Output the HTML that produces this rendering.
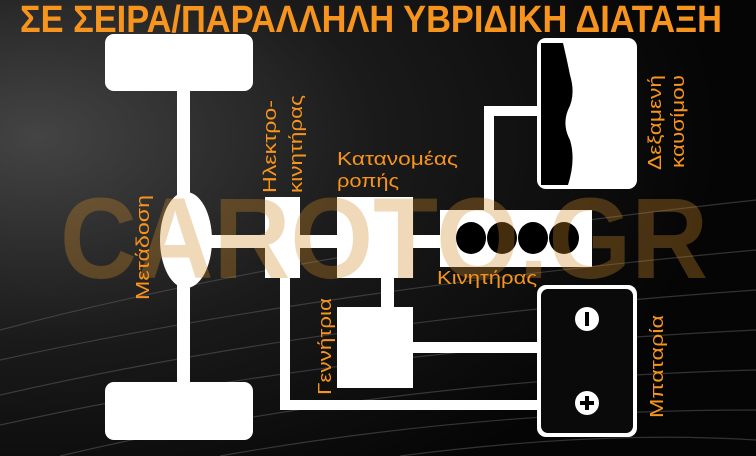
<!DOCTYPE html>
<html><head><meta charset="utf-8"><style>
html,body{margin:0;padding:0;width:756px;height:456px;overflow:hidden;background:#000}
svg{display:block}
</style></head><body>
<svg width="756" height="456" viewBox="0 0 756 456" xmlns="http://www.w3.org/2000/svg">
<defs>
<radialGradient id="bg" cx="0.05" cy="0.3" r="0.9">
<stop offset="0" stop-color="#444"/><stop offset="0.5" stop-color="#1a1a1a"/><stop offset="1" stop-color="#050505"/>
</radialGradient>
</defs>
<rect width="756" height="456" fill="url(#bg)"/>
<g stroke="#6a6a6a" stroke-width="1.2" fill="none" opacity="0.45">
<path d="M0 330 Q300 250 756 200"/><path d="M0 360 Q320 290 756 250"/><path d="M0 395 Q330 320 756 290"/>
<path d="M0 425 Q340 350 756 330"/><path d="M60 456 Q380 380 756 370"/><path d="M220 456 Q480 410 756 410"/>
<path d="M400 456 Q600 430 756 440"/>
</g>
<text x="20" y="32" font-family="Liberation Sans, sans-serif" font-weight="bold" font-size="38" fill="#f7941d" textLength="702" lengthAdjust="spacingAndGlyphs">ΣΕ ΣΕΙΡΑ/ΠΑΡΑΛΛΗΛΗ ΥΒΡΙΔΙΚΗ ΔΙΑΤΑΞΗ</text>
<g fill="#fff">
<rect x="105" y="34" width="148" height="57" rx="9"/>
<rect x="105" y="382" width="148" height="58" rx="9"/>
<rect x="177" y="88" width="13" height="298"/>
<ellipse cx="186" cy="240" rx="26" ry="48"/>
<rect x="205" y="235" width="240" height="13"/>
<rect x="265" y="197" width="35" height="81"/>
<rect x="337" y="197" width="76" height="81"/>
<rect x="440" y="210" width="152" height="57"/>
<rect x="381" y="276" width="13" height="33"/>
<rect x="337" y="307" width="76" height="81"/>
<rect x="410" y="342" width="130" height="11"/>
<rect x="280" y="276" width="10" height="134"/>
<rect x="280" y="400" width="260" height="10"/>
<rect x="484" y="106" width="10" height="106"/>
<rect x="484" y="106" width="56" height="10"/>
<rect x="537" y="38" width="100" height="151" rx="9"/>
<rect x="537" y="285" width="100" height="152" rx="9"/>
</g>
<path d="M541 43 L563 43 Q567 60 570 75 Q576 95 568 110 Q562 125 570 140 Q576 160 568 185 L541 185 Z" fill="#000"/>
<rect x="541" y="289" width="92" height="144" rx="7" fill="#0a0a0a"/>
<g fill="#000">
<ellipse cx="471" cy="238" rx="15" ry="16"/><ellipse cx="502" cy="238" rx="15" ry="16"/>
<ellipse cx="533" cy="238" rx="15" ry="16"/><ellipse cx="564" cy="238" rx="15" ry="16"/>
</g>
<circle cx="587" cy="319" r="12" fill="#fff"/><rect x="585" y="312" width="4" height="14" fill="#000"/>
<circle cx="587" cy="403" r="12" fill="#fff"/><rect x="580" y="401" width="14" height="4" fill="#000"/><rect x="585" y="396" width="4" height="14" fill="#000"/>
<text x="60" y="278" font-family="Liberation Sans, sans-serif" font-weight="bold" font-size="115" fill="#d08c2a" opacity="0.32" textLength="648" lengthAdjust="spacingAndGlyphs">CAROTO.GR</text>
<g font-family="Liberation Sans, sans-serif" font-size="18" fill="#f7941d">
<text transform="translate(149,300) rotate(-90)" textLength="105" lengthAdjust="spacingAndGlyphs">Μετάδοση</text>
<text transform="translate(276,193) rotate(-90)" textLength="93" lengthAdjust="spacingAndGlyphs">Ηλεκτρο-</text>
<text transform="translate(302,193) rotate(-90)" textLength="98" lengthAdjust="spacingAndGlyphs">κινητήρας</text>
<text x="337" y="165" textLength="121" lengthAdjust="spacingAndGlyphs">Κατανομέας</text>
<text x="337" y="187" textLength="62" lengthAdjust="spacingAndGlyphs">ροπής</text>
<text x="437" y="284" textLength="100" lengthAdjust="spacingAndGlyphs">Κινητήρας</text>
<text transform="translate(661,170) rotate(-90)" textLength="95" lengthAdjust="spacingAndGlyphs">Δεξαμενή</text>
<text transform="translate(684,168) rotate(-90)" textLength="93" lengthAdjust="spacingAndGlyphs">καυσίμου</text>
<text transform="translate(331,395) rotate(-90)" textLength="97" lengthAdjust="spacingAndGlyphs">Γεννήτρια</text>
<text transform="translate(663,418) rotate(-90)" textLength="103" lengthAdjust="spacingAndGlyphs">Μπαταρία</text>
</g>
</svg>
</body></html>
